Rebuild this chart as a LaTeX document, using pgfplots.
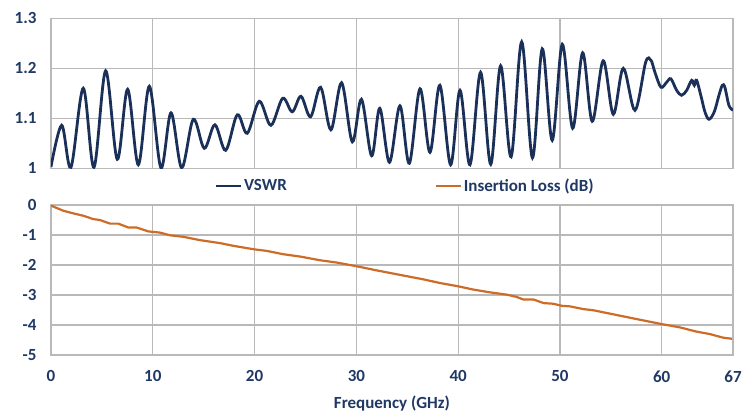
\documentclass[border=0pt]{standalone}
\usepackage{fontspec}
\setmainfont{Carlito}
\usepackage{pgfplots}
\pgfplotsset{compat=1.18}

\definecolor{navy}{RGB}{31,56,100}
\definecolor{vswr}{RGB}{27,48,88}
\definecolor{iloss}{RGB}{204,108,38}
\definecolor{gridc}{RGB}{185,185,185}

\pgfplotsset{panel/.style={
  scale only axis, width=682pt, height=150pt,
  xmin=0, xmax=67, xtick={0,10,20,30,40,50,60,67},
  grid=major, major grid style={gridc, line width=1.3pt},
  axis line style={gridc, line width=1.3pt},
  major tick length=0pt,
  tick label style={font=\fontsize{17}{20}\selectfont\bfseries, text=navy},
  yticklabel style={xshift=-11pt},
  xticklabel style={yshift=-12pt},
}}

\begin{document}
\begin{tikzpicture}
\path[use as bounding box] (-51pt,-59pt) rectangle (704pt,355pt);

% top panel: VSWR
\begin{axis}[panel, at={(0pt,186.7pt)}, anchor=south west,
  ymin=1, ymax=1.3, ytick={1,1.1,1.2,1.3}, yticklabels={1,1.1,1.2,1.3},
  xticklabels={},
  legend columns=2,
  legend style={at={(0.519,-0.118)}, anchor=center, draw=none, fill=none,
    font=\fontsize{17}{20}\selectfont\bfseries, text=navy,
    nodes={inner xsep=1.5pt},
    /tikz/every even column/.append style={column sep=147pt}},
  legend image code/.code={\draw[#1] (0pt,0pt) -- (25pt,0pt);}]
\addplot[vswr, line width=2.8pt, smooth, tension=0.55] coordinates {
(0,1.003) (1.05,1.086) (1.96,1.002) (3.17,1.160) (4.22,1.002) (5.37,1.195)
(6.51,1.018) (7.53,1.158) (8.58,1.007) (9.66,1.164) (10.8,1.001) (11.79,1.111)
(12.84,1.001) (13.98,1.098) (15.06,1.040) (16.1,1.087) (17.16,1.036) (18.3,1.107)
(19.28,1.070) (20.46,1.134) (21.6,1.086) (22.76,1.140) (23.7,1.113) (24.56,1.144)
(25.5,1.103) (26.49,1.162) (27.5,1.077) (28.55,1.171) (29.6,1.053) (30.5,1.138)
(31.5,1.025) (32.3,1.120) (33.25,1.012) (34.28,1.125) (35.2,1.010) (36.25,1.159)
(37.23,1.032) (38.2,1.166) (39.26,1.007) (40.18,1.156) (41.16,1.007) (42.2,1.192)
(43.2,1.008) (44.17,1.205) (45.2,1.023) (46.24,1.253) (47.3,1.021) (48.26,1.239)
(49.24,1.056) (50.23,1.248) (51.25,1.080) (52.23,1.231) (53.17,1.094) (54.25,1.215)
(55.24,1.108) (56.22,1.200) (57.37,1.116) (58.42,1.212) (58.94,1.216) (59.33,1.192)
(59.92,1.162) (60.48,1.172) (60.9,1.179) (61.46,1.156) (61.95,1.146) (62.45,1.156)
(62.94,1.176) (63.2,1.166) (63.43,1.176) (63.92,1.139) (64.24,1.113) (64.64,1.098)
(65.16,1.113) (65.62,1.146) (65.95,1.166) (66.2,1.162) (66.6,1.126) (67.0,1.116)
};
\addlegendentry{VSWR}
\addlegendimage{iloss, line width=2pt}
\addlegendentry{Insertion Loss (dB)}
\end{axis}

% bottom panel: insertion loss
\begin{axis}[panel, at={(0pt,0pt)}, anchor=south west,
  ymin=-5, ymax=0, ytick={-5,-4,-3,-2,-1,0}, yticklabels={-5,-4,-3,-2,-1,0},
  xticklabels={0,10,20,30,40,50,60,67},
  xlabel={Frequency (GHz)},
  xlabel style={at={(axis description cs:0.5,0)}, anchor=base, yshift=-54pt,
    font=\fontsize{17}{20}\selectfont\bfseries, text=navy}]
\addplot[iloss, line width=2.2pt] coordinates {
(0,-0.02) (1.2,-0.19) (2.2,-0.28) (3.2,-0.36) (4.15,-0.47) (4.8,-0.50)
(5.8,-0.62) (6.6,-0.62) (7.6,-0.75) (8.4,-0.75) (9.56,-0.88) (10.7,-0.92)
(11.7,-1.01) (13.0,-1.06) (14.6,-1.17) (16.6,-1.27) (17.9,-1.36) (20.0,-1.48)
(21.2,-1.53) (22.8,-1.64) (24.5,-1.72) (26.4,-1.84) (28.1,-1.92) (30.0,-2.04)
(32.0,-2.18) (34.3,-2.33) (36.6,-2.48) (38.2,-2.60) (40.0,-2.71) (41.5,-2.82)
(43.1,-2.91) (44.8,-2.99) (45.7,-3.06) (46.4,-3.15) (47.4,-3.15) (48.4,-3.27)
(49.3,-3.29) (50.2,-3.36) (51.0,-3.38) (52.3,-3.47) (53.3,-3.51) (54.6,-3.60)
(55.9,-3.69) (57.5,-3.80) (60.0,-3.97) (61.8,-4.08) (63.4,-4.22) (64.7,-4.30)
(66.0,-4.42) (66.9,-4.46)
};
\end{axis}
\end{tikzpicture}
\end{document}
